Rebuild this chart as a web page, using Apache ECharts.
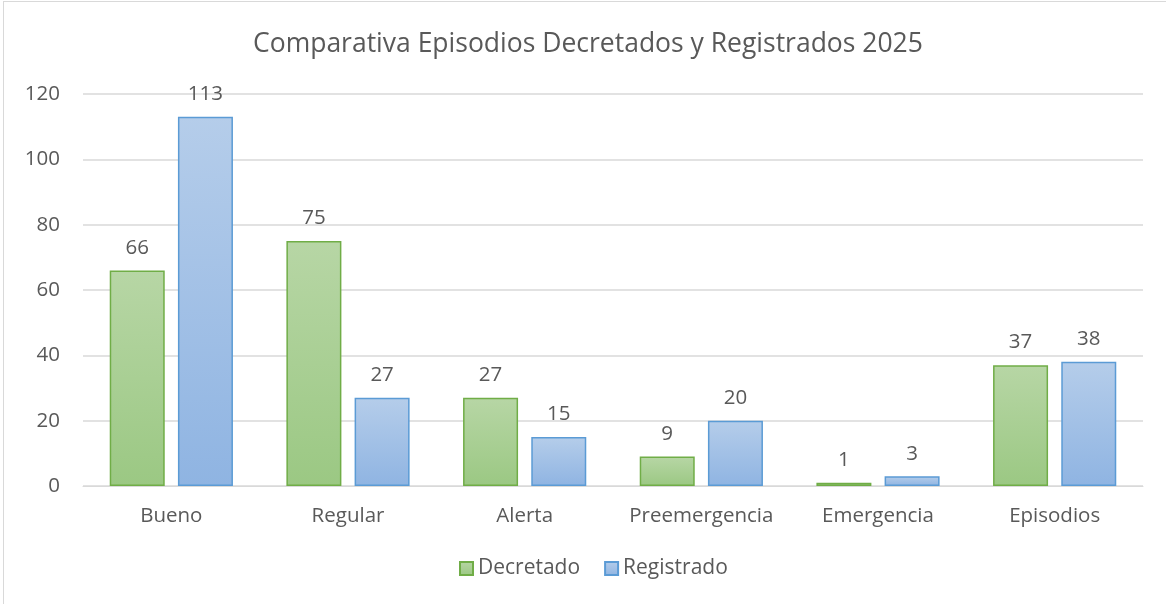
<!DOCTYPE html>
<html>
<head>
<meta charset="utf-8" />
<title></title>
<script src="https://cdn.jsdelivr.net/npm/echarts@6/dist/echarts.min.js"></script>
<style>
html, body { margin: 0; padding: 0; background: #fff; }
#frame { position: absolute; left: 3px; top: 1px; width: 1170px; height: 610px; border: 1px solid #d9d9d9; box-sizing: border-box; }
#main { position: absolute; left: 0; top: 0; width: 1166px; height: 604px; }
</style>
</head>
<body>
<div id="frame"></div>
<div id="main"></div>
<script>
var categories = ['Bueno', 'Regular', 'Alerta', 'Preemergencia', 'Emergencia', 'Episodios'];
var decretado = [66, 75, 27, 9, 1, 37];
var registrado = [113, 27, 15, 20, 3, 38];
var yTicks = { min: 0, max: 120, interval: 20 };

var txt = '#595959';
var fam = '"Open Sans", "Noto Sans", sans-serif';

function grad(top, bottom) {
    return new echarts.graphic.LinearGradient(0, 0, 0, 1, [
        { offset: 0, color: top },
        { offset: 1, color: bottom }
    ]);
}

var option = {
    animation: false,
    title: {
        text: 'Comparativa Episodios Decretados y Registrados 2025',
        left: 248,
        top: 26,
        textStyle: { fontFamily: fam, fontSize: 26.5, fontWeight: 'normal', color: txt }
    },
    legend: {
        bottom: 20,
        left: 454,
        icon: 'rect',
        itemWidth: 13,
        itemHeight: 13,
        itemGap: 24,
        textStyle: { fontFamily: fam, fontSize: 21, color: txt },
        data: ['Decretado', 'Registrado']
    },
    grid: { left: 83, right: 23, top: 94, bottom: 118 },
    xAxis: {
        type: 'category',
        data: categories,
        axisLine: { lineStyle: { color: '#d9d9d9' } },
        axisTick: { show: false },
        axisLabel: { fontFamily: fam, fontSize: 20.5, color: txt, margin: 20, interval: 0 }
    },
    yAxis: {
        type: 'value',
        min: yTicks.min,
        max: yTicks.max,
        interval: yTicks.interval,
        axisLine: { show: false },
        axisTick: { show: false },
        splitLine: { lineStyle: { color: '#d9d9d9', width: 1.5 } },
        axisLabel: { fontFamily: fam, fontSize: 20.5, color: txt, margin: 23 }
    },
    series: [
        {
            name: 'Decretado',
            type: 'bar',
            data: decretado,
            barWidth: 55,
            barGap: '24%',
            itemStyle: { color: grad('#b7d6a5', '#9bc883'), borderColor: '#70ad47', borderWidth: 1.5 },
            label: { show: true, position: 'top', distance: 12, fontFamily: fam, fontSize: 20.5, color: txt }
        },
        {
            name: 'Registrado',
            type: 'bar',
            data: registrado,
            barWidth: 55,
            itemStyle: { color: grad('#b5cdea', '#8fb4e2'), borderColor: '#5b9bd5', borderWidth: 1.5 },
            label: { show: true, position: 'top', distance: 12, fontFamily: fam, fontSize: 20.5, color: txt }
        }
    ]
};

var myChart = echarts.init(document.getElementById('main'));
myChart.setOption(option);
</script>
</body>
</html>
